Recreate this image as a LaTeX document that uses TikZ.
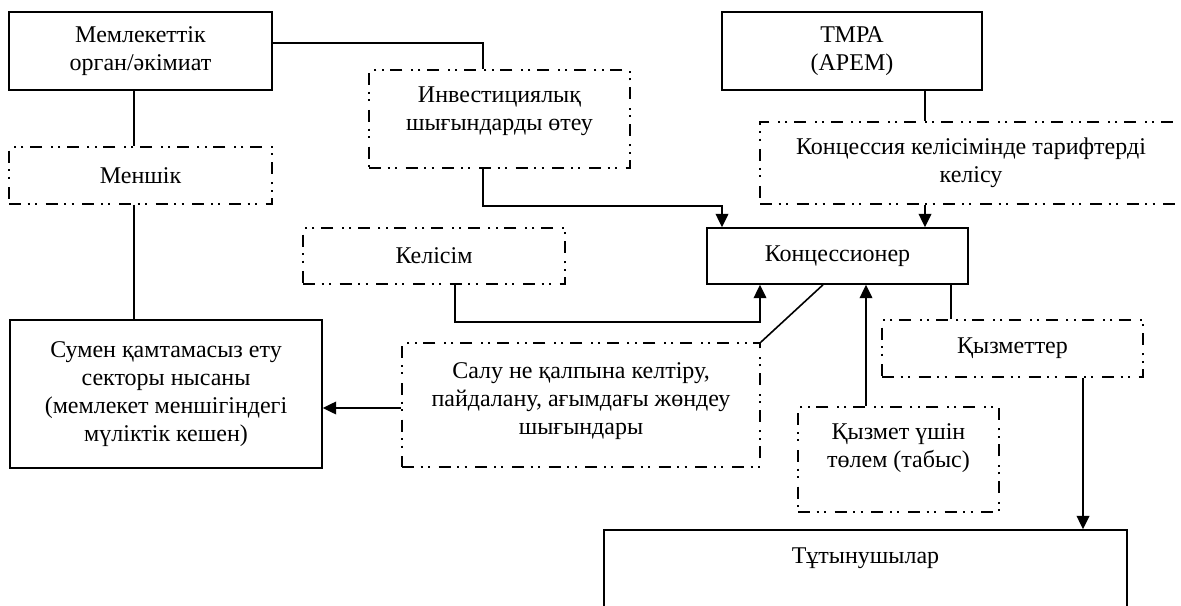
\documentclass[tikz,border=0pt]{standalone}
\usepackage{fontspec}
\setmainfont{Liberation Serif}
\usetikzlibrary{positioning,calc,arrows.meta}

\begin{document}
\begin{tikzpicture}[x=0.75pt, y=-0.75pt, line width=1.2pt, >={Triangle[length=10pt,width=9.5pt]},
    every node/.style={font=\fontsize{18}{21}\selectfont, align=center, inner sep=0pt},
    box/.style={rectangle, draw, line width=1.2pt},
    dbox/.style={rectangle, draw, line width=1.2pt, dash pattern=on 9pt off 5pt on 1.5pt off 4pt on 1.5pt off 6.5pt}]
            \useasboundingbox (0,0) rectangle (1181,606);
            \clip (0,0) rectangle (1181,606);

            \node[box, minimum width=197.25pt, minimum height=58.5pt] (organ) at (140.5,51) {Мемлекеттік\\орган/әкімиат};
            \node[dbox, minimum width=197.25pt, minimum height=42.75pt] (menshik) at (140.5,175.5) {Меншік};
            \node[box, minimum width=234pt, minimum height=111pt] (nysan) at (166,394) {Сумен қамтамасыз ету\\секторы нысаны\\(мемлекет меншігіндегі\\мүліктік кешен)};
            \node[dbox, minimum width=195.75pt, minimum height=73.5pt] (invest) at (499.5,119) {Инвестициялық\\шығындарды өтеу\\[-6pt]~};
            \node[dbox, minimum width=196.5pt, minimum height=42pt] (kelisim) at (434,256) {Келісім};
            \node[box, minimum width=195pt, minimum height=58.5pt] (tmra) at (852,51) {ТМРА\\(АРЕМ)};
            \node[dbox, minimum width=316.5pt, minimum height=61.5pt] (tarif) at (971,163) {Концессия келісімінде тарифтерді\\келісу};
            \node[box, minimum width=195.75pt, minimum height=42pt] (konc) at (837.5,256) {Концессионер};
            \node[dbox, minimum width=268.5pt, minimum height=93pt] (salu) at (581,405) {Салу не қалпына келтіру,\\пайдалану, ағымдағы жөндеу\\шығындары\\[-12pt]~};
            \node[dbox, minimum width=195.75pt, minimum height=42.75pt] (qyzmet) at (1012.5,348.5) {Қызметтер};
            \node[dbox, minimum width=150.75pt, minimum height=78.75pt] (tolem) at (898.5,459.5) {Қызмет үшін\\төлем (табыс)\\~};
            \node[box, minimum width=392.25pt, minimum height=90pt] (tutyn) at (865.5,590) {};
            \node[below=21.5pt of tutyn.north, anchor=center] (tutyntext) {Тұтынушылар};

            % left column
            \draw (organ.south -| 134,0) -- (menshik.north -| 134,0);
            \draw (menshik.south -| 134,0) -- (nysan.north -| 134,0);
            \draw (organ.east |- 0,43) -| (invest.north -| 483,0);
            \draw[->] (invest.south -| 483,0) -- ++(0,37) -| (konc.north -| 722,0);
            \draw[->] (kelisim.south -| 455,0) -- ++(0,37) -| (konc.south -| 760,0);
            \draw[->] ($(salu.west)+(0,3)$) -- (nysan.east |- 0,408);

            % right column
            \draw (tmra.south -| 925,0) -- (tarif.north -| 925,0);
            \draw[->] (tarif.south -| 925,0) -- (konc.north -| 925,0);
            \draw (konc.south -| 823,0) -- (salu.north east);
            \draw[->] (tolem.north -| 866,0) -- (konc.south -| 866,0);
            \draw (konc.south -| 951,0) -- (qyzmet.north -| 951,0);
            \draw[->] (qyzmet.south -| 1083,0) -- (tutyn.north -| 1083,0);
        \end{tikzpicture}
\end{document}
